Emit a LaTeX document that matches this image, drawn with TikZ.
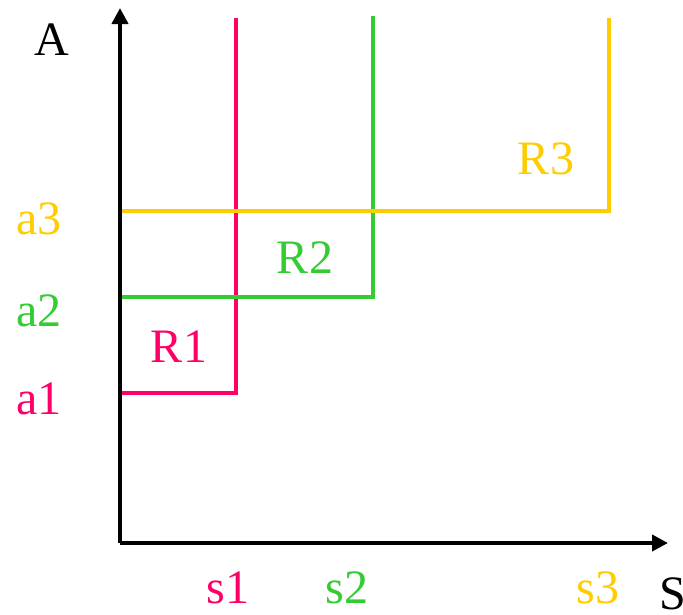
\documentclass[tikz,border=0pt]{standalone}
\usepackage{fontspec}
\setmainfont{Liberation Serif}
\usetikzlibrary{arrows.meta}
\definecolor{cred}{HTML}{FF0066}
\definecolor{cgreen}{HTML}{33CC33}
\definecolor{cyellow}{HTML}{FFCC00}
\begin{document}
\begin{tikzpicture}[x=1pt,y=-1pt,
  axis/.style={line width=4.5pt,-{Triangle[length=16pt,width=16pt]}},
  curve/.style={line width=4.5pt},
  lbl/.style={font=\fontsize{48}{48}\selectfont,inner sep=0pt}]
\useasboundingbox (0,0) rectangle (683,614);
\coordinate (O) at (120,543);
\coordinate (Ytop) at (120,8);
\coordinate (Xend) at (668,543);
\draw[axis] (O) -- (Ytop);
\draw[axis] (O) -- (Xend);
% step curves
\coordinate (r1) at (236,393);
\coordinate (g1) at (373,297);
\coordinate (y1) at (609,211);
\draw[curve,cred] (122,393) -- (r1) -- (236,18);
\draw[curve,cgreen] (122,297) -- (g1) -- (373,16);
\draw[curve,cyellow] (122,211) -- (y1) -- (609,18);
% labels
\node[lbl] (A) at (52,40) {A};
\node[lbl,text=cyellow] (a3) at (39,219) {a3};
\node[lbl,text=cgreen] (a2) at (39,311) {a2};
\node[lbl,text=cred] (a1) at (39,399) {a1};
\node[lbl,text=cred] (R1) at (179,347) {R1};
\node[lbl,text=cgreen] (R2) at (305,258) {R2};
\node[lbl,text=cyellow] (R3) at (546,159) {R3};
\node[lbl,text=cred] (s1) at (228,588) {s1};
\node[lbl,text=cgreen] (s2) at (347,588) {s2};
\node[lbl,text=cyellow] (s3) at (598,588) {s3};
\node[lbl,anchor=west] (S) at (659,594) {S};
\end{tikzpicture}
\end{document}
